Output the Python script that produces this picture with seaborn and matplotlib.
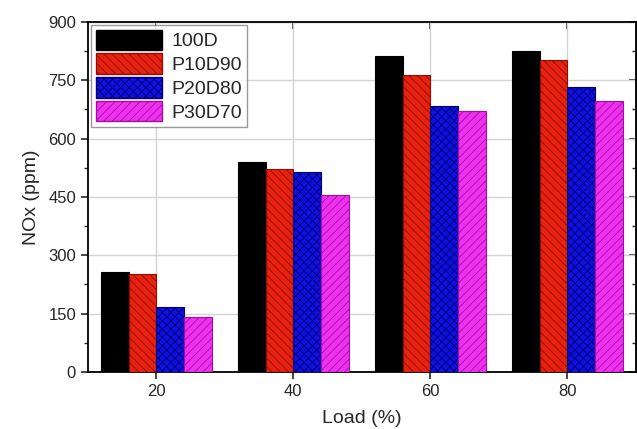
import matplotlib
matplotlib.use("Agg")
import matplotlib.pyplot as plt
from matplotlib.ticker import MultipleLocator
import pandas as pd
import seaborn as sns

# data
loads = ["20", "40", "60", "80"]
fuels = ["100D", "P10D90", "P20D80", "P30D70"]
nox_100d = [258, 540, 812, 826]
nox_p10d90 = [252, 523, 763, 802]
nox_p20d80 = [168, 513, 683, 733]
nox_p30d70 = [142, 455, 670, 697]

colors = ["#000000", "#e8200f", "#1010e0", "#f030f0"]
hatch_colors = ["#000000", "#8a1005", "#000070", "#a010a0"]
hatches = ["", "\\\\\\\\", "xxxx", "////"]

rows = []
for fuel, vals in zip(fuels, [nox_100d, nox_p10d90, nox_p20d80, nox_p30d70]):
    for load, v in zip(loads, vals):
        rows.append({"Load": load, "Fuel": fuel, "NOx": v})
df = pd.DataFrame(rows)

sns.set_style("ticks")
plt.rcParams["font.family"] = ["Liberation Sans", "DejaVu Sans"]
plt.rcParams["hatch.linewidth"] = 0.6

fig = plt.figure(figsize=(6.37, 4.29), dpi=100)
ax = fig.add_axes([0.138, 0.133, 0.86, 0.816])

sns.barplot(data=df, x="Load", y="NOx", hue="Fuel", order=loads, hue_order=fuels,
            palette=colors, width=0.81, gap=0, saturation=1, errorbar=None, ax=ax, zorder=3)

for cont, h, hc in zip(ax.containers, hatches, hatch_colors):
    for bar in cont:
        bar.set_hatch(h)
        bar.set_edgecolor(hc)
        bar.set_linewidth(0.8)

ax.set_xlim(-0.5, 3.5)
ax.set_ylim(0, 900)
ax.yaxis.set_major_locator(MultipleLocator(150))
ax.yaxis.set_minor_locator(MultipleLocator(75))
ax.grid(True, color="#d4d4d4", linewidth=1.0, zorder=0)
ax.set_axisbelow(True)

ax.tick_params(axis="both", which="major", labelsize=12, length=5, width=1.2, direction="out")
ax.tick_params(axis="y", which="minor", length=3, width=1.0, direction="out")
for s in ax.spines.values():
    s.set_linewidth(1.3)
    s.set_color("black")

# inward ticks on top and right, no labels
top = ax.secondary_xaxis("top")
top.set_xticks(range(len(loads)))
top.tick_params(direction="in", length=5, width=1.2, labeltop=False)
right = ax.secondary_yaxis("right")
right.yaxis.set_major_locator(MultipleLocator(150))
right.yaxis.set_minor_locator(MultipleLocator(75))
right.tick_params(which="major", direction="in", length=5, width=1.2, labelright=False)
right.tick_params(which="minor", direction="in", length=3, width=1.0)

ax.set_xlabel("Load (%)", fontsize=14, labelpad=8)
ax.set_ylabel("NOx (ppm)", fontsize=14, labelpad=6)

# legend handles keep the same look as the bars
handles, labels = ax.get_legend_handles_labels()
for hnd, h, hc in zip(handles, hatches, hatch_colors):
    hnd.set_hatch(h)
    hnd.set_edgecolor(hc)
leg = ax.legend(handles, labels, loc="upper left", fontsize=14, frameon=True, fancybox=False,
                edgecolor="#808080", handlelength=3.4, handleheight=1.25,
                borderaxespad=0.15, borderpad=0.25, labelspacing=0.15, handletextpad=0.5)
leg.get_frame().set_linewidth(1.0)

fig.savefig("out.png", dpi=100)
